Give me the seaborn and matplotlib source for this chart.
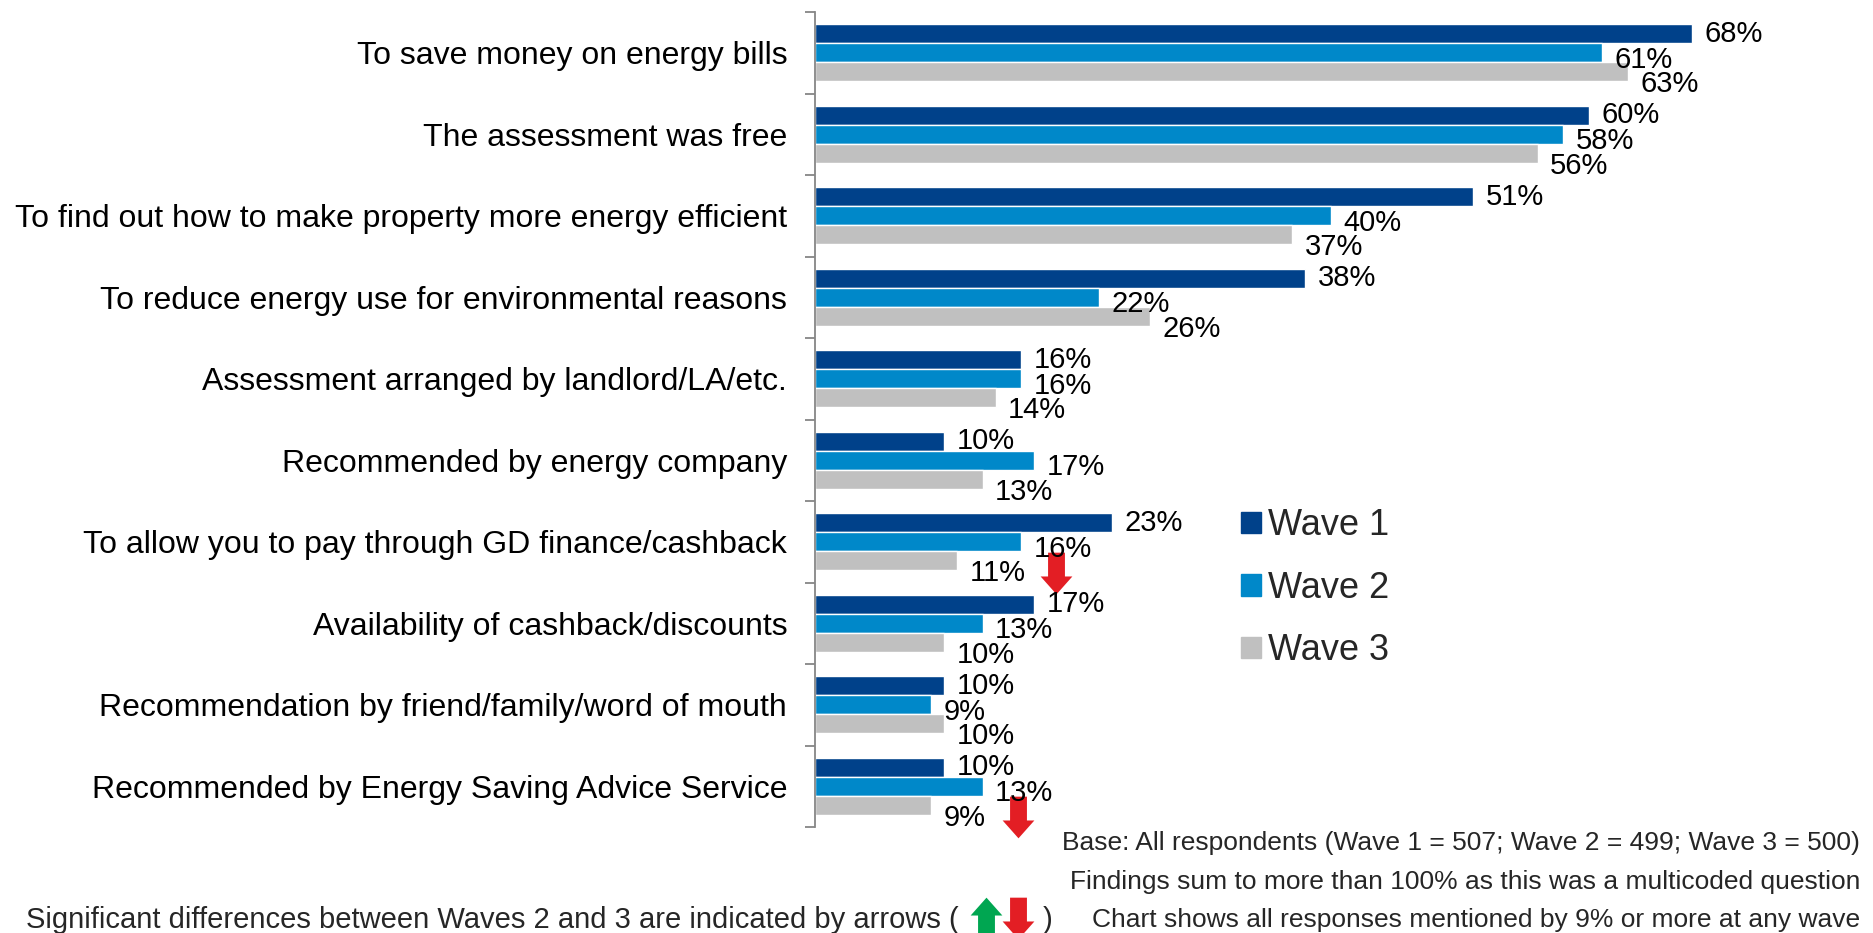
import numpy as np
import pandas as pd
import seaborn as sns
import matplotlib.pyplot as plt
from matplotlib.path import Path
from matplotlib.patches import Patch

reasons = [
    "To save money on energy bills",
    "The assessment was free",
    "To find out how to make property more energy efficient",
    "To reduce energy use for environmental reasons",
    "Assessment arranged by landlord/LA/etc.",
    "Recommended by energy company",
    "To allow you to pay through GD finance/cashback",
    "Availability of cashback/discounts",
    "Recommendation by friend/family/word of mouth",
    "Recommended by Energy Saving Advice Service",
]
waves = ["Wave 1", "Wave 2", "Wave 3"]
wave1 = [68, 60, 51, 38, 16, 10, 23, 17, 10, 10]
wave2 = [61, 58, 40, 22, 16, 17, 16, 13, 9, 13]
wave3 = [63, 56, 37, 26, 14, 13, 11, 10, 10, 9]
# significant decrease wave 2 -> wave 3
sig_down = ["To allow you to pay through GD finance/cashback",
            "Recommended by Energy Saving Advice Service"]

colors = ["#00418A", "#0088C9", "#C0C0C0"]
red = "#E31E24"
green = "#00A651"

df = pd.DataFrame({
    "reason": reasons * 3,
    "wave": np.repeat(waves, len(reasons)),
    "value": wave1 + wave2 + wave3,
})

sns.set_theme(style="white")
plt.rcParams["font.family"] = ["Liberation Sans", "DejaVu Sans"]
narrow = ["Liberation Sans Narrow", "Liberation Sans", "DejaVu Sans"]

fig = plt.figure(figsize=(18.74, 9.33), dpi=100)
ax = fig.add_axes([0.4349, 0.1136, 0.5336, 0.8735])

sns.barplot(data=df, y="reason", x="value", hue="wave", palette=colors,
            orient="h", width=0.7, saturation=1, errorbar=None, ax=ax,
            legend=False)

ax.set_xlim(0, 77.5)
ax.set_ylim(len(reasons) - 0.5, -0.5)
ax.set_xlabel("")
ax.set_ylabel("")
ax.xaxis.set_visible(False)
for s in ["top", "right", "bottom"]:
    ax.spines[s].set_visible(False)
ax.spines["left"].set_color("#868686")
ax.spines["left"].set_linewidth(1.3)

# boundary ticks, labels centred in each band
ax.set_yticks(np.arange(-0.5, len(reasons)), labels=[""] * (len(reasons) + 1))
ax.set_yticks(np.arange(len(reasons)), labels=reasons, minor=True)
ax.tick_params(axis="y", which="major", left=True, length=7, width=1.3,
               color="#868686")
ax.tick_params(axis="y", which="minor", left=False, length=0, pad=20,
               labelsize=23, labelcolor="black")

# data labels
dys = [0, -5, -9]
for i, cont in enumerate(ax.containers):
    for bar in cont:
        w = bar.get_width()
        ax.annotate(f"{w:.0f}%", (w, bar.get_y() + bar.get_height() / 2),
                    xytext=(9, dys[i]), textcoords="offset points",
                    va="center", ha="left", fontsize=21, color="black")

# arrow marker
arrow_down = Path([(-8.5, 21), (8.5, 21), (8.5, -3), (16, -3), (0, -21),
                   (-16, -3), (-8.5, -3), (-8.5, 21)],
                  [Path.MOVETO] + [Path.LINETO] * 6 + [Path.CLOSEPOLY])
arrow_up = Path([(x, -y) for x, y in arrow_down.vertices], arrow_down.codes)

for r in sig_down:
    i = reasons.index(r)
    ax.plot(wave2[i] + 2.7, i + 0.38, marker=arrow_down, markersize=30,
            color=red, markeredgewidth=0, clip_on=False)

# legend
handles = [Patch(color=c, label=w) for c, w in zip(colors, waves)]
fig.legend(handles=handles, loc="upper left", bbox_to_anchor=(0.645, 0.49),
           frameon=False, fontsize=26, handlelength=0.55, handleheight=0.55,
           handletextpad=0.2, labelspacing=0.76)

# footnotes
fig.text(0.9925, 1 - 843 / 933, "Base: All respondents (Wave 1 = 507; Wave 2 = 499; Wave 3 = 500)",
         ha="right", va="center", fontsize=19, family=narrow)
fig.text(0.9925, 1 - 882 / 933, "Findings sum to more than 100% as this was a multicoded question",
         ha="right", va="center", fontsize=19, family=narrow)
fig.text(0.9925, 1 - 920 / 933, "Chart shows all responses mentioned by 9% or more at any wave",
         ha="right", va="center", fontsize=19, family=narrow)
fig.text(26 / 1874, 1 - 920 / 933, "Significant differences between Waves 2 and 3 are indicated by arrows (",
         ha="left", va="center", fontsize=21, family=narrow)
fig.text(1043 / 1874, 1 - 920 / 933, ")", ha="left", va="center",
         fontsize=21, family=narrow)
ax.plot([986 / 1874], [1 - 918 / 933], transform=fig.transFigure,
        marker=arrow_up, markersize=30, color=green, markeredgewidth=0,
        clip_on=False)
ax.plot([1018 / 1874], [1 - 918 / 933], transform=fig.transFigure,
        marker=arrow_down, markersize=30, color=red, markeredgewidth=0,
        clip_on=False)

fig.savefig("out.png", dpi=100)
